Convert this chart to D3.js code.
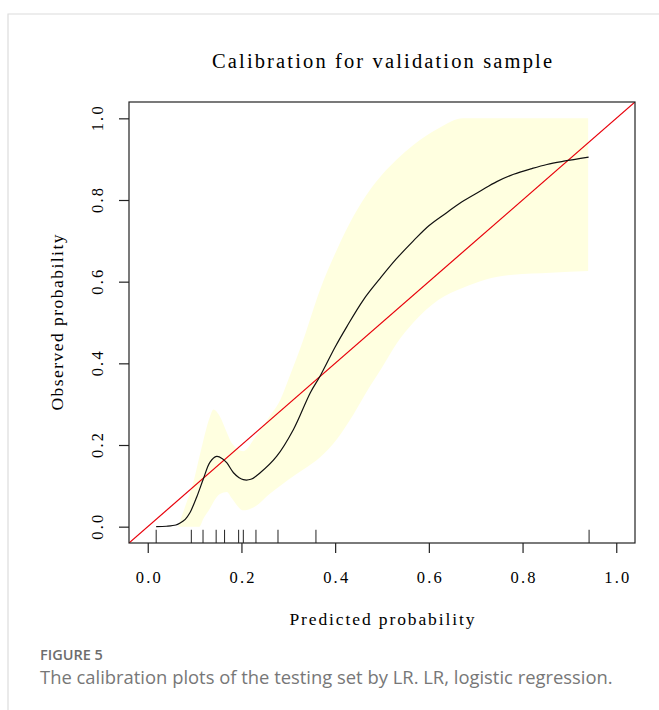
<!DOCTYPE html>
<html>
<head>
<meta charset="utf-8">
<script src="https://cdn.jsdelivr.net/npm/d3@7"></script>
<style>
  body { margin: 0; background: #fff; }
  svg text { fill: #000; }
</style>
</head>
<body>
<svg id="chart" width="659" height="710"></svg>
<script>
// calibration curve (predicted, observed)
const curveX = [0.018, 0.04, 0.06, 0.069, 0.08, 0.09, 0.105, 0.119, 0.133, 0.147, 0.16, 0.169, 0.183, 0.195, 0.204, 0.22, 0.24, 0.275, 0.311, 0.347, 0.368, 0.40, 0.425, 0.46, 0.496, 0.53, 0.567, 0.60, 0.638, 0.67, 0.71, 0.745, 0.781, 0.82, 0.852, 0.888, 0.941];
const curveY = [0.0, 0.001, 0.004, 0.009, 0.018, 0.034, 0.074, 0.118, 0.158, 0.172, 0.166, 0.156, 0.132, 0.12, 0.115, 0.116, 0.132, 0.172, 0.238, 0.328, 0.369, 0.44, 0.49, 0.555, 0.608, 0.655, 0.7, 0.737, 0.769, 0.795, 0.822, 0.845, 0.863, 0.877, 0.887, 0.895, 0.905];

// confidence band
const bandX  = [0.065, 0.08, 0.097, 0.11, 0.119, 0.133, 0.14, 0.154, 0.169, 0.179, 0.204, 0.23, 0.26, 0.283, 0.30, 0.332, 0.368, 0.404, 0.439, 0.475, 0.50, 0.532, 0.567, 0.62, 0.673, 0.72, 0.78, 0.86, 0.94];
const bandHi = [0.0, 0.05, 0.107, 0.17, 0.213, 0.27, 0.287, 0.27, 0.23, 0.205, 0.185, 0.22, 0.27, 0.311, 0.36, 0.458, 0.581, 0.679, 0.76, 0.826, 0.862, 0.9, 0.935, 0.975, 1.0, 1.0, 1.0, 1.0, 1.0];
const bandLo = [0.0, 0.0, 0.0, 0.0, 0.02, 0.045, 0.06, 0.08, 0.085, 0.07, 0.04, 0.05, 0.08, 0.1, 0.115, 0.14, 0.17, 0.215, 0.275, 0.345, 0.39, 0.45, 0.5, 0.555, 0.585, 0.605, 0.617, 0.622, 0.626];

// rug of predicted values
const rugX = [0.018, 0.093, 0.118, 0.146, 0.164, 0.194, 0.204, 0.231, 0.278, 0.359, 0.942];

const tickVals = [0, 0.2, 0.4, 0.6, 0.8, 1.0];
const tickLabels = ["0.0", "0.2", "0.4", "0.6", "0.8", "1.0"];

// serif face, spread out to the width of the original monospaced text
const serif = "'Liberation Serif', 'DejaVu Serif', serif";
const svg = d3.select("#chart");

// frame of the figure panel
svg.append("path")
    .attr("d", "M8,710 V14 H659")
    .attr("fill", "none")
    .attr("stroke", "#dcdcdc")
    .attr("stroke-width", 1.2);

const box = {left: 129, right: 635, top: 102, bottom: 543};

const x = d3.scaleLinear().domain([-0.04, 1.04]).range([box.left, box.right]);
const y = d3.scaleLinear().domain([-0.04, 1.04]).range([box.bottom, box.top]);

svg.append("clipPath").attr("id", "clip")
  .append("rect")
    .attr("x", box.left).attr("y", box.top)
    .attr("width", box.right - box.left).attr("height", box.bottom - box.top);

const plot = svg.append("g").attr("clip-path", "url(#clip)");

// band
const band = bandX.map((d, i) => ({x: d, lo: bandLo[i], hi: bandHi[i]}));
plot.append("path")
    .datum(band)
    .attr("fill", "#ffffe0")
    .attr("d", d3.area()
        .x(d => x(d.x))
        .y0(d => y(d.lo))
        .y1(d => y(Math.min(1, d.hi)))
        .curve(d3.curveMonotoneX));

// ideal line
plot.append("line")
    .attr("x1", x(-0.04)).attr("y1", y(-0.04))
    .attr("x2", x(1.04)).attr("y2", y(1.04))
    .attr("stroke", "#e8000b")
    .attr("stroke-width", 1.2);

// calibration curve
const pts = curveX.map((d, i) => [d, curveY[i]]);
plot.append("path")
    .datum(pts)
    .attr("fill", "none")
    .attr("stroke", "#111")
    .attr("stroke-width", 1.2)
    .attr("d", d3.line()
        .x(d => x(d[0]))
        .y(d => y(d[1]))
        .curve(d3.curveCatmullRom.alpha(0.5)));

// rug
plot.selectAll("line.rug")
    .data(rugX)
    .enter()
    .append("line")
    .attr("class", "rug")
    .attr("x1", d => x(d)).attr("x2", d => x(d))
    .attr("y1", y(-0.04)).attr("y2", y(-0.04 + 0.03 * 1.08))
    .attr("stroke", "#222")
    .attr("stroke-width", 1);

// box
svg.append("rect")
    .attr("x", box.left).attr("y", box.top)
    .attr("width", box.right - box.left).attr("height", box.bottom - box.top)
    .attr("fill", "none")
    .attr("stroke", "#222")
    .attr("stroke-width", 1.2);

// axes
const xAxis = d3.axisBottom(x)
    .tickValues(tickVals)
    .tickFormat((d, i) => tickLabels[i])
    .tickSize(10);
const xg = svg.append("g")
    .attr("transform", `translate(0,${box.bottom})`)
    .call(xAxis);

const yAxis = d3.axisLeft(y)
    .tickValues(tickVals)
    .tickFormat((d, i) => tickLabels[i])
    .tickSize(10);
const yg = svg.append("g")
    .attr("transform", `translate(${box.left},0)`)
    .call(yAxis);

[xg, yg].forEach(g => {
    g.select(".domain").remove();
    g.selectAll(".tick line").attr("stroke", "#222").attr("stroke-width", 1.2);
    g.selectAll(".tick text")
        .style("font-family", serif)
        .style("font-size", "16.5px")
        .attr("textLength", 25)
        .attr("lengthAdjust", "spacing")
        .attr("fill", "#000");
});

xg.selectAll(".tick text").attr("dy", null).attr("y", 40);

yg.selectAll(".tick text")
    .attr("x", null).attr("dy", null)
    .attr("text-anchor", "middle")
    .attr("transform", "translate(-26,0) rotate(-90)")
    .attr("y", 0);

// titles
svg.append("text")
    .attr("x", (box.left + box.right) / 2)
    .attr("y", 68)
    .attr("text-anchor", "middle")
    .attr("textLength", 340)
    .attr("lengthAdjust", "spacing")
    .style("font-family", serif)
    .style("font-size", "20.5px")
    .text("Calibration for validation sample");

svg.append("text")
    .attr("x", (box.left + box.right) / 2)
    .attr("y", 625)
    .attr("text-anchor", "middle")
    .attr("textLength", 185)
    .attr("lengthAdjust", "spacing")
    .style("font-family", serif)
    .style("font-size", "17.5px")
    .text("Predicted probability");

svg.append("text")
    .attr("transform", `translate(63,${(box.top + box.bottom) / 2}) rotate(-90)`)
    .attr("text-anchor", "middle")
    .attr("textLength", 176)
    .attr("lengthAdjust", "spacing")
    .style("font-family", serif)
    .style("font-size", "17.5px")
    .text("Observed probability");

// caption
svg.append("text")
    .attr("x", 40).attr("y", 660)
    .style("font-family", "'Open Sans', sans-serif")
    .style("font-size", "14.5px")
    .style("font-weight", "600")
    .style("fill", "#6d6d6d")
    .text("FIGURE 5");

svg.append("text")
    .attr("x", 40).attr("y", 684)
    .style("font-family", "'Open Sans', sans-serif")
    .style("font-size", "18.4px")
    .style("fill", "#777")
    .text("The calibration plots of the testing set by LR. LR, logistic regression.");
</script>
</body>
</html>
